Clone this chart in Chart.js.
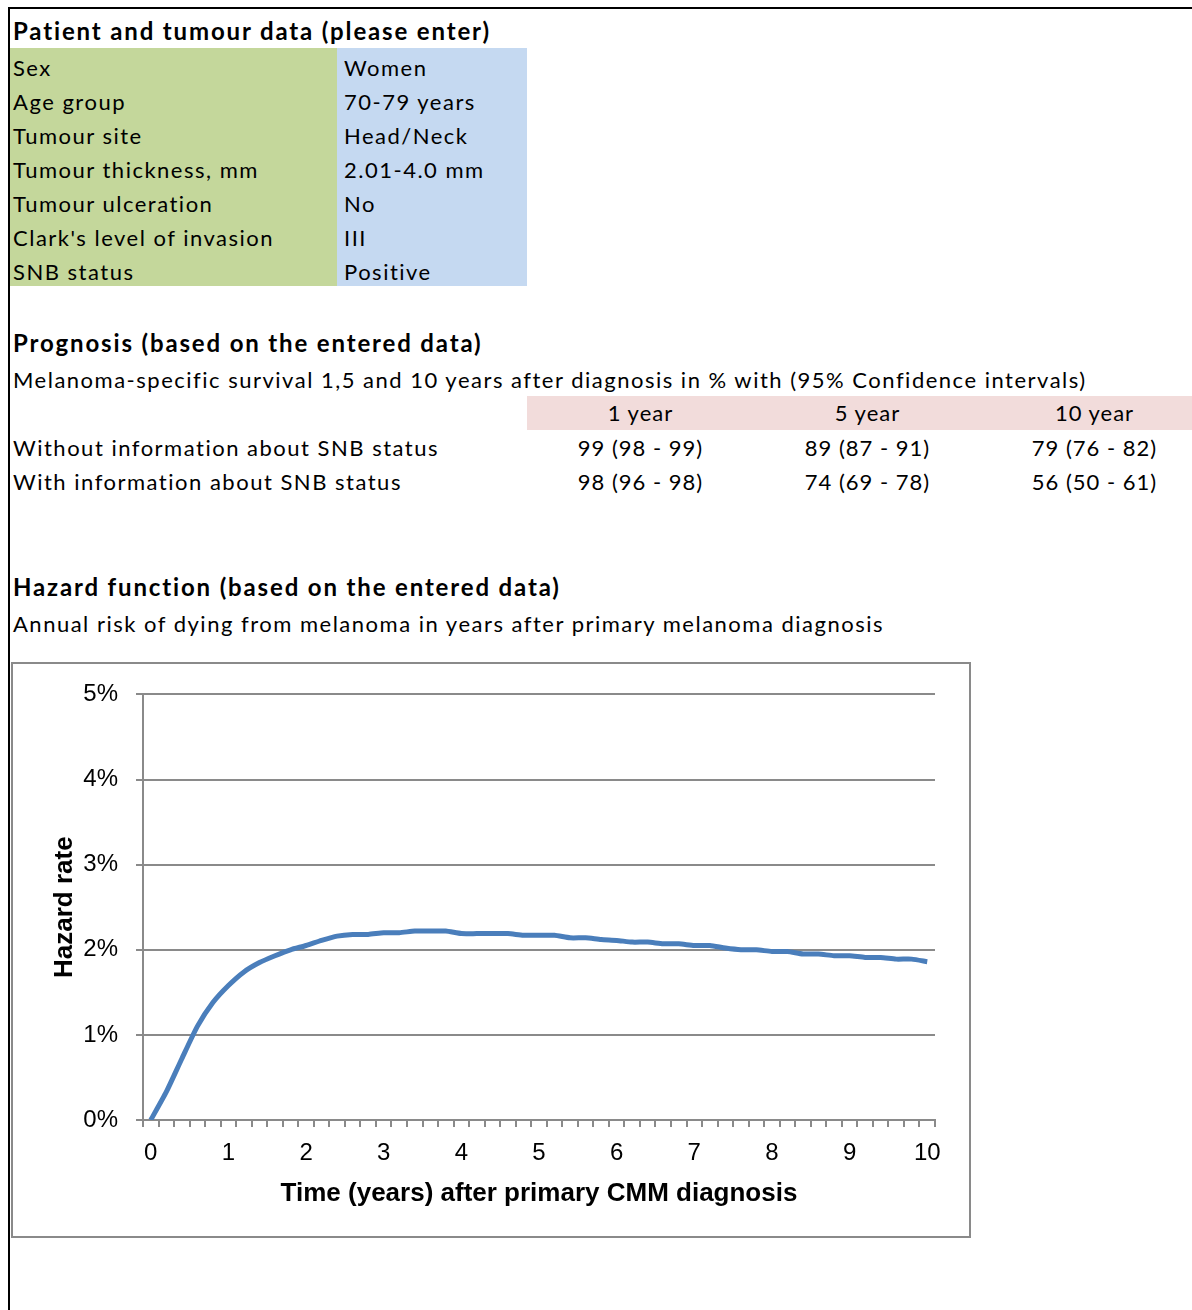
<!DOCTYPE html>
<html>
<head>
<meta charset="utf-8">
<script src="https://cdn.jsdelivr.net/npm/chart.js@4"></script>
<style>
body{margin:0;width:1192px;height:1310px;position:relative;background:#fff;font-family:Lato,"Noto Sans",sans-serif;color:#000;overflow:hidden}
.t{position:absolute;line-height:34px;font-size:22px;white-space:nowrap;letter-spacing:1.5px}
.h{font-weight:bold;font-size:24px;letter-spacing:1.85px}
.c{text-align:center;width:227px;letter-spacing:1px}
</style>
</head>
<body>
<div style="position:absolute;left:8px;top:7px;width:1184px;height:2px;background:#000"></div>
<div style="position:absolute;left:8px;top:7px;width:2px;height:1303px;background:#000"></div>
<div style="position:absolute;left:10px;top:48px;width:327px;height:238px;background:#c4d79b"></div>
<div style="position:absolute;left:337px;top:48px;width:190px;height:238px;background:#c5d9f1"></div>
<div style="position:absolute;left:527px;top:396px;width:665px;height:34px;background:#f2dcdb"></div>

<div class="t h" style="left:13px;top:14px">Patient and tumour data (please enter)</div>
<div class="t h" style="left:13px;top:326px">Prognosis (based on the entered data)</div>
<div class="t" style="left:13px;top:363px">Melanoma-specific survival 1,5 and 10 years after diagnosis in % with (95% Confidence intervals)</div>
<div class="t h" style="left:13px;top:570px">Hazard function (based on the entered data)</div>
<div class="t" style="left:13px;top:607px">Annual risk of dying from melanoma in years after primary melanoma diagnosis</div>

<div id="box" style="position:absolute;left:11px;top:662px;width:960px;height:576px">
  <canvas id="hazardChart" width="960" height="576" style="position:absolute;left:0;top:0"></canvas>
  <div style="position:absolute;left:0;top:0;width:960px;height:576px;border:2px solid #8a8a8a;box-sizing:border-box"></div>
</div>

<script>
// Patient table
const patientFields = ["Sex","Age group","Tumour site","Tumour thickness, mm","Tumour ulceration","Clark's level of invasion","SNB status"];
const patientValues = ["Women","70-79 years","Head/Neck","2.01-4.0 mm","No","III","Positive"];

// Prognosis table
const prognosisYears = ["1 year","5 year","10 year"];
const prognosisRows = ["Without information about SNB status","With information about SNB status"];
const survivalNoSNB = ["99 (98 - 99)","89 (87 - 91)","79 (76 - 82)"];
const survivalWithSNB = ["98 (96 - 98)","74 (69 - 78)","56 (50 - 61)"];

// Hazard curve (years after diagnosis, hazard in %)
const timeLabels = ["0","0.2","0.4","0.6","0.8","1","1.2","1.4","1.6","1.8",
  "2","2.2","2.4","2.6","2.8","3","3.2","3.4","3.6","3.8",
  "4","4.2","4.4","4.6","4.8","5","5.2","5.4","5.6","5.8",
  "6","6.2","6.4","6.6","6.8","7","7.2","7.4","7.6","7.8",
  "8","8.2","8.4","8.6","8.8","9","9.2","9.4","9.6","9.8","10"];
const hazardRate = [0.00,0.33,0.72,1.10,1.38,1.58,1.74,1.85,1.93,2.00,
  2.05,2.11,2.16,2.18,2.18,2.20,2.20,2.22,2.22,2.22,
  2.19,2.19,2.19,2.19,2.17,2.17,2.17,2.14,2.14,2.12,
  2.11,2.09,2.09,2.07,2.07,2.05,2.05,2.02,2.00,2.00,
  1.98,1.98,1.95,1.95,1.93,1.93,1.91,1.91,1.89,1.89,1.86];
const yTicks = [0,1,2,3,4,5];

function addText(txt, left, top, cls){
	var d = document.createElement("div");
	d.className = "t" + (cls ? " " + cls : "");
	d.style.left = left + "px";
	d.style.top = top + "px";
	d.textContent = txt;
	document.body.appendChild(d);
}

patientFields.forEach((f, i) => {
	addText(f, 13, 51 + i*34);
	addText(patientValues[i], 344, 51 + i*34);
});
prognosisYears.forEach((y, i) => addText(y, 527 + i*227, 396, "c"));
addText(prognosisRows[0], 13, 431);
addText(prognosisRows[1], 13, 465);
survivalNoSNB.forEach((v, i) => addText(v, 527 + i*227, 431, "c"));
survivalWithSNB.forEach((v, i) => addText(v, 527 + i*227, 465, "c"));

// Chart
const axisFont = {family:"'Liberation Sans', Arial, sans-serif", size:24};
const titleFont = {family:"'Liberation Sans', Arial, sans-serif", size:26, weight:"bold"};
const gridColor = "#8a8a8a";

new Chart(document.getElementById("hazardChart"), {
	type: "line",
	data: {
		labels: timeLabels,
		datasets: [{
			data: hazardRate,
			borderColor: "#4a7ebb",
			borderWidth: 5,
			pointRadius: 0,
			tension: 0.2,
			fill: false
		}]
	},
	options: {
		responsive: false,
		animation: false,
		devicePixelRatio: 1,
		layout: {padding: {top: 26, right: 36, left: 0, bottom: 0}},
		plugins: {legend: {display: false}, tooltip: {enabled: false}},
		scales: {
			x: {
				type: "category",
				offset: true,
				afterFit: s => { s.height = 118; },
				grid: {display: true, drawOnChartArea: false, offset: true, color: gridColor, lineWidth: 2, tickLength: 7},
				border: {color: gridColor, width: 2},
				ticks: {
					autoSkip: false, maxRotation: 0, color: "#000", font: axisFont, padding: 12,
					callback: (v, i) => (i % 5 == 0 ? timeLabels[i] : "")
				},
				title: {display: true, text: "Time (years) after primary CMM diagnosis", color: "#000", font: titleFont, padding: {top: 0, bottom: 29}}
			},
			y: {
				min: 0, max: 5,
				afterFit: s => { s.width = 132; },
				afterBuildTicks: s => { s.ticks = yTicks.map(v => ({value: v})); },
				grid: {color: gridColor, lineWidth: 2, tickLength: 7},
				border: {color: gridColor, width: 2},
				ticks: {color: "#000", font: axisFont, padding: 18, callback: v => v + "%"},
				title: {display: true, text: "Hazard rate", color: "#000", font: titleFont, padding: {top: 38, bottom: 0}}
			}
		}
	}
});
</script>
</body>
</html>
